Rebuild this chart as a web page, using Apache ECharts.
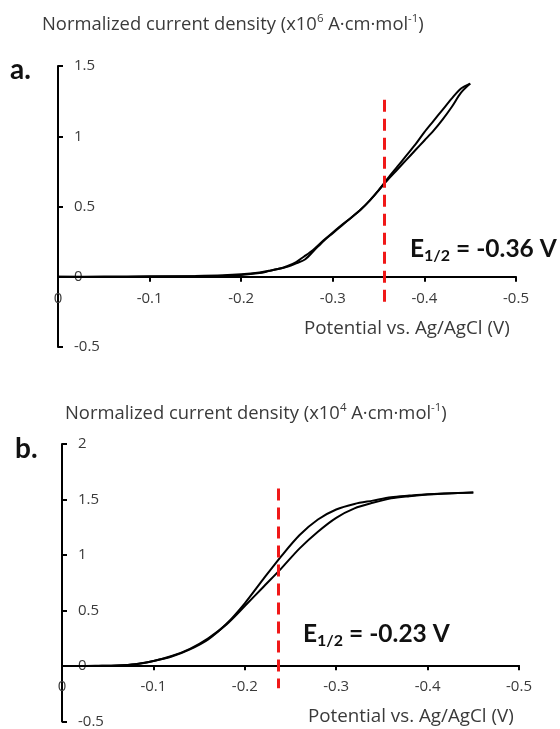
<!DOCTYPE html>
<html>
<head>
<meta charset="utf-8">
<script src="https://cdn.jsdelivr.net/npm/echarts@6/dist/echarts.min.js"></script>
<style>
  html, body { margin: 0; padding: 0; background: #fff; }
  #chart { width: 560px; height: 729px; }
</style>
</head>
<body>
<div id="chart"></div>
<script>
// panel a: potential (V) vs normalized current density (x10^6), two scan branches
const potentialA = [0, -0.05, -0.10, -0.15, -0.18, -0.20, -0.22, -0.23, -0.24, -0.25, -0.26, -0.27, -0.28, -0.29, -0.30,
  -0.31, -0.32, -0.33, -0.34, -0.35, -0.36, -0.37, -0.38, -0.39, -0.40, -0.41, -0.42, -0.43, -0.44, -0.45]
const forwardA = [0, 0.001, 0.003, 0.006, 0.01, 0.017, 0.03, 0.042, 0.055, 0.075, 0.105, 0.15, 0.20, 0.26, 0.315,
  0.37, 0.42, 0.475, 0.54, 0.615, 0.70, 0.78, 0.86, 0.94, 1.03, 1.11, 1.19, 1.27, 1.34, 1.375]
const reverseA = [0, -0.002, 0.0, 0.003, 0.006, 0.012, 0.026, 0.04, 0.055, 0.07, 0.095, 0.125, 0.19, 0.255, 0.31,
  0.365, 0.42, 0.475, 0.54, 0.615, 0.69, 0.76, 0.83, 0.90, 0.97, 1.04, 1.12, 1.21, 1.31, 1.375]

// panel b: potential (V) vs normalized current density (x10^4)
const potentialB = [0, -0.02, -0.04, -0.06, -0.08, -0.10, -0.12, -0.14, -0.16, -0.18, -0.20, -0.22,
  -0.24, -0.26, -0.28, -0.30, -0.32, -0.34, -0.36, -0.38, -0.40, -0.42, -0.45]
const forwardB = [0, 0.0, 0.001, 0.004, 0.015, 0.045, 0.085, 0.15, 0.24, 0.38, 0.565, 0.78,
  0.99, 1.18, 1.32, 1.41, 1.46, 1.49, 1.52, 1.535, 1.548, 1.555, 1.563]
const reverseB = [0, 0.0, 0.002, 0.005, 0.016, 0.045, 0.09, 0.155, 0.25, 0.375, 0.54, 0.71,
  0.88, 1.06, 1.21, 1.335, 1.42, 1.47, 1.51, 1.53, 1.545, 1.553, 1.563]

// axis ranges
const yRangeA = [-0.5, 1.5]
const yRangeB = [-0.5, 2]

// half-wave potentials and the extent of the dashed marker (top, bottom)
const halfWaveA = -0.356
const halfWaveB = -0.237
const markerRangeA = [1.26, -0.19]
const markerRangeB = [1.6, -0.2]

const FONT = "'Open Sans', 'Noto Sans', sans-serif"
const BOLD_FONT = 'Lato'
const textColor = '#3a3a3a'

const W = 560, H = 729
const gridA = { left: 58, right: 44, top: 66, bottom: 382 }
const gridB = { left: 62, right: 41, top: 444, bottom: 4 }

const pairs = (xs, ys) => xs.map((x, i) => [x, ys[i]])

// the x axis sits on y = 0; shift it up from the grid bottom by that distance
const zeroOffset = (grid, range) => {
  const h = H - grid.top - grid.bottom
  return -h * (0 - range[0]) / (range[1] - range[0])
}

const chart = echarts.init(document.getElementById('chart'))

const xAxisBase = (gridIndex, offset) => ({
  type: 'value',
  gridIndex,
  min: -0.5,
  max: 0,
  interval: 0.1,
  inverse: true,
  offset,
  axisLine: { onZero: false, lineStyle: { color: '#000', width: 2 } },
  axisTick: { show: true, length: 5, lineStyle: { color: '#000', width: 2 } },
  axisLabel: { margin: 14, color: textColor, fontFamily: FONT, fontSize: 15 },
  splitLine: { show: false },
})

const yAxisBase = (gridIndex, range) => ({
  type: 'value',
  gridIndex,
  min: range[0],
  max: range[1],
  interval: 0.5,
  axisLine: { show: true, onZero: false, lineStyle: { color: '#000', width: 2 } },
  axisTick: { show: true, inside: true, length: 5, lineStyle: { color: '#000', width: 2 } },
  axisLabel: { inside: true, margin: 16, color: textColor, fontFamily: FONT, fontSize: 15 },
  splitLine: { show: false },
})

const curve = (idx, data) => ({
  type: 'line',
  xAxisIndex: idx,
  yAxisIndex: idx,
  data,
  showSymbol: false,
  smooth: 0.3,
  lineStyle: { color: '#000', width: 2 },
  z: 3,
})

const halfWaveMark = (x, range) => ({
  silent: true,
  symbol: 'none',
  label: { show: false },
  lineStyle: { color: '#f01818', width: 3, type: [12, 7] },
  data: [[{ coord: [x, range[0]] }, { coord: [x, range[1]] }]],
})

const axisTitle = (power) =>
  `{n|Normalized current density (x10}{sup|${power}}{n| A·cm·mol}{sup|-1}{n|)}`

const titleRich = {
  n: { fontFamily: FONT, fontSize: 18.4, fontWeight: 'normal', color: textColor, lineHeight: 24 },
  sup: { fontFamily: FONT, fontSize: 11.5, fontWeight: 'normal', color: textColor, verticalAlign: 'top' },
}

const e12Rich = {
  e: { fontFamily: BOLD_FONT, fontSize: 24.5, fontWeight: 'bold', color: '#111', lineHeight: 30 },
  sub: { fontFamily: BOLD_FONT, fontSize: 16, fontWeight: 'bold', color: '#111', verticalAlign: 'bottom' },
}

const text = (str, left, top, style) => ({
  text: str,
  left,
  top,
  padding: 0,
  textStyle: style,
})

const plain = { fontFamily: FONT, fontSize: 18.8, fontWeight: 'normal', color: textColor }
const panelTag = { fontFamily: BOLD_FONT, fontSize: 28, fontWeight: 'bold', color: '#111' }

const option = {
  backgroundColor: '#fff',
  animation: false,
  title: [
    text(axisTitle(6), 42, 13, { fontWeight: 'normal', rich: titleRich }),
    text(axisTitle(4), 65, 402, { fontWeight: 'normal', rich: titleRich }),
    text('a.', 10, 56, panelTag),
    text('b.', 15, 435, panelTag),
    text('{e|E}{sub|1/2}{e| = -0.36 V}', 410, 234, { rich: e12Rich }),
    text('{e|E}{sub|1/2}{e| = -0.23 V}', 303, 619, { rich: e12Rich }),
    text('Potential vs. Ag/AgCl (V)', 304, 319, plain),
    text('Potential vs. Ag/AgCl (V)', 308, 707, plain),
  ],
  grid: [gridA, gridB],
  xAxis: [xAxisBase(0, zeroOffset(gridA, yRangeA)), xAxisBase(1, zeroOffset(gridB, yRangeB))],
  yAxis: [yAxisBase(0, yRangeA), yAxisBase(1, yRangeB)],
  series: [
    { ...curve(0, pairs(potentialA, forwardA)), markLine: halfWaveMark(halfWaveA, markerRangeA) },
    curve(0, pairs(potentialA, reverseA)),
    { ...curve(1, pairs(potentialB, forwardB)), markLine: halfWaveMark(halfWaveB, markerRangeB) },
    curve(1, pairs(potentialB, reverseB)),
  ],
}

chart.setOption(option)
</script>
</body>
</html>
